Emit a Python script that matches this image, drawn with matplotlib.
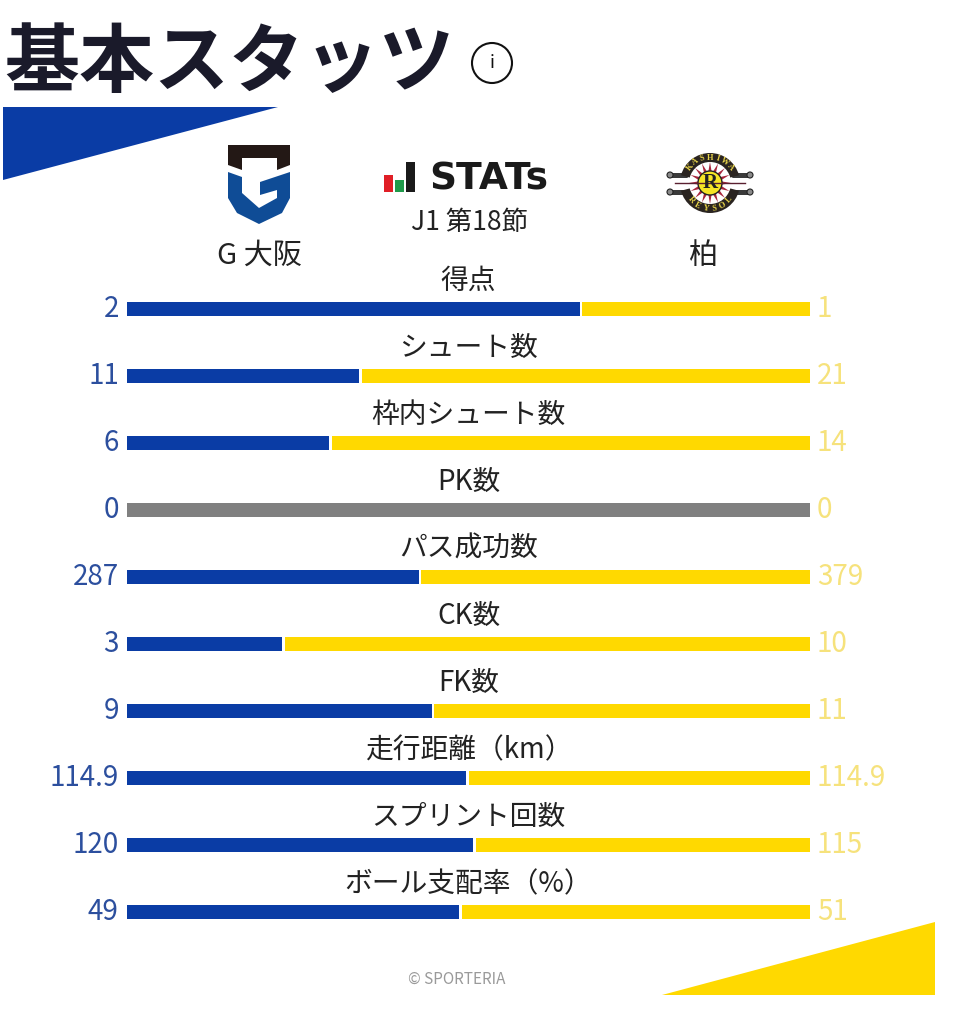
import numpy as np
import matplotlib
matplotlib.use("Agg")
import matplotlib.pyplot as plt
from matplotlib.patches import Circle, Polygon, Wedge, Rectangle

plt.rcParams['font.family'] = ['Noto Sans CJK JP', 'DejaVu Sans']

WIDTH = 980
HEIGHT = 1024

BLUE = "#0a3ca5"
YELLOW = "#ffd900"
GRAY = "#808080"
BLUE_TEXT = "#2c4f9e"
YELLOW_TEXT = "#f6e27c"
DARK = "#1a1a2a"

stat_names = ["得点", "シュート数", "枠内シュート数", "PK数", "パス成功数",
              "CK数", "FK数", "走行距離（km）", "スプリント回数", "ボール支配率（%）"]
home_values = [2, 11, 6, 0, 287, 3, 9, 114.9, 120, 49]
away_values = [1, 21, 14, 0, 379, 10, 11, 114.9, 115, 51]

home_team = "G 大阪"
away_team = "柏"
round_label = "J1 第18節"


def draw_gamba_logo(ax):
    ax.add_patch(Polygon([(228, 145), (290, 145), (290, 165), (277, 170), (277, 158),
                          (242, 158), (242, 170), (228, 165)], color="#231815", lw=0))
    ax.add_patch(Polygon([(228, 172), (242, 177), (242, 193), (259, 208), (277, 198),
                          (277, 190), (260, 195), (260, 182), (290, 172), (290, 198),
                          (282, 213), (259, 224), (237, 213), (228, 198)],
                         color="#0f4c96", lw=0))


def draw_reysol_logo(ax):
    cx, cy = 710, 183
    # scroll ends on both sides of the two arcs
    for y in [175, 192]:
        ax.add_patch(Rectangle((672, y - 2.5), 76, 5, color="#3a3a3a", lw=0))
        for x in [670, 750]:
            ax.add_patch(Circle((x, y), 3, color="#8a8a8a", ec="#222222", lw=0.8))
    ax.add_patch(Circle((cx, cy), 23, color="white", lw=0))
    ax.add_patch(Wedge((cx, cy), 30, 195, 345, width=9, color="#2a2420", lw=0))
    ax.add_patch(Wedge((cx, cy), 30, 15, 165, width=9, color="#2a2420", lw=0))
    ax.plot([675, 745], [cy, cy], color="#5a2030", lw=1)
    for ang in np.arange(0, 360, 22.5):
        a = np.radians(ang)
        b = np.radians(9)
        ax.add_patch(Polygon([(cx + 21 * np.cos(a), cy + 21 * np.sin(a)),
                              (cx + 11 * np.cos(a + b), cy + 11 * np.sin(a + b)),
                              (cx + 11 * np.cos(a - b), cy + 11 * np.sin(a - b))],
                             color="#a8263c", lw=0))
    ax.add_patch(Circle((cx, cy), 12, color="#f5e526", ec="#222222", lw=1))
    ax.text(cx, cy, "R", ha="center", va="center", fontsize=15, family="Liberation Serif",
            fontweight="bold", color="#222222")
    for word, start, stop in [("KASHIWA", 142, 38), ("REYSOL", 222, 318)]:
        for ch, ang in zip(word, np.linspace(start, stop, len(word))):
            a = np.radians(ang)
            rot = ang - 90 if ang < 180 else ang + 90
            ax.text(cx + 25.5 * np.cos(a), cy - 25.5 * np.sin(a), ch, rotation=rot,
                    rotation_mode="anchor", ha="center", va="center", fontsize=6,
                    family="Liberation Serif", fontweight="bold", color="#e8d44a")


def draw_stats_logo(ax):
    ax.add_patch(Rectangle((384, 175), 8.5, 17, color="#e01e26", lw=0))
    ax.add_patch(Rectangle((395, 180), 8.5, 12, color="#1f9a4a", lw=0))
    ax.add_patch(Rectangle((406, 162), 8.5, 30, color="#1a1a1a", lw=0))
    ax.text(429, 190, "STATs", ha="left", va="baseline", fontsize=27, fontweight="bold",
            family="DejaVu Sans", color="#1a1a1a")


fig = plt.figure(figsize=(WIDTH / 100, HEIGHT / 100), dpi=100, facecolor="white")

# pixel sized layer for the header, logos and corner triangles
deco = fig.add_axes([0, 0, 1, 1])
deco.set_xlim(0, WIDTH)
deco.set_ylim(HEIGHT, 0)
deco.axis("off")

deco.text(4, 64, "基本スタッツ", ha="left", va="center", fontsize=54, fontweight="bold", color=DARK)
deco.add_patch(Circle((492, 63), 20, fill=False, ec="#111111", lw=1.5))
deco.text(492, 63, "i", ha="center", va="center", fontsize=13, color="#111111")

deco.add_patch(Polygon([(3, 107), (278, 107), (3, 180)], color=BLUE, lw=0))
deco.add_patch(Polygon([(662, 995), (935, 922), (935, 995)], color=YELLOW, lw=0))

draw_gamba_logo(deco)
draw_reysol_logo(deco)
draw_stats_logo(deco)

deco.text(259, 256, home_team, ha="center", va="center", fontsize=21, color="#222222")
deco.text(704, 256, away_team, ha="center", va="center", fontsize=21, color="#222222")
deco.text(469, 223, round_label, ha="center", va="center", fontsize=19, color="#222222")
deco.text(457, 979, "© SPORTERIA", ha="center", va="center", fontsize=11, color="#9a9a9a")

# stat bars: x is the home share of each row
left, right = 127, 810
row_gap = 67
top_center = 309
ax = fig.add_axes([left / WIDTH, 1 - (top_center + 9.5 * row_gap) / HEIGHT,
                   (right - left) / WIDTH, 10 * row_gap / HEIGHT])
ax.patch.set_alpha(0)
ax.set_xlim(0, 1)
ax.set_ylim(9.5, -0.5)
ax.axis("off")

bar_h = 14 / row_gap
gap = 2.5 / (right - left)
for i, (name, home, away) in enumerate(zip(stat_names, home_values, away_values)):
    total = home + away
    if total == 0:
        ax.barh(i, 1, height=bar_h, color=GRAY)
    else:
        share = home / total
        ax.barh(i, share - gap, height=bar_h, color=BLUE)
        ax.barh(i, 1 - share, left=share, height=bar_h, color=YELLOW)
    ax.text(0.5, i - 0.42, name, ha="center", va="center", fontsize=20, color="#222222")
    ax.text(-0.012, i + 0, str(home), ha="right", va="center", fontsize=20, color=BLUE_TEXT)
    ax.text(1.01, i + 0, str(away), ha="left", va="center", fontsize=20, color=YELLOW_TEXT)

fig.savefig("out.png", dpi=100)
